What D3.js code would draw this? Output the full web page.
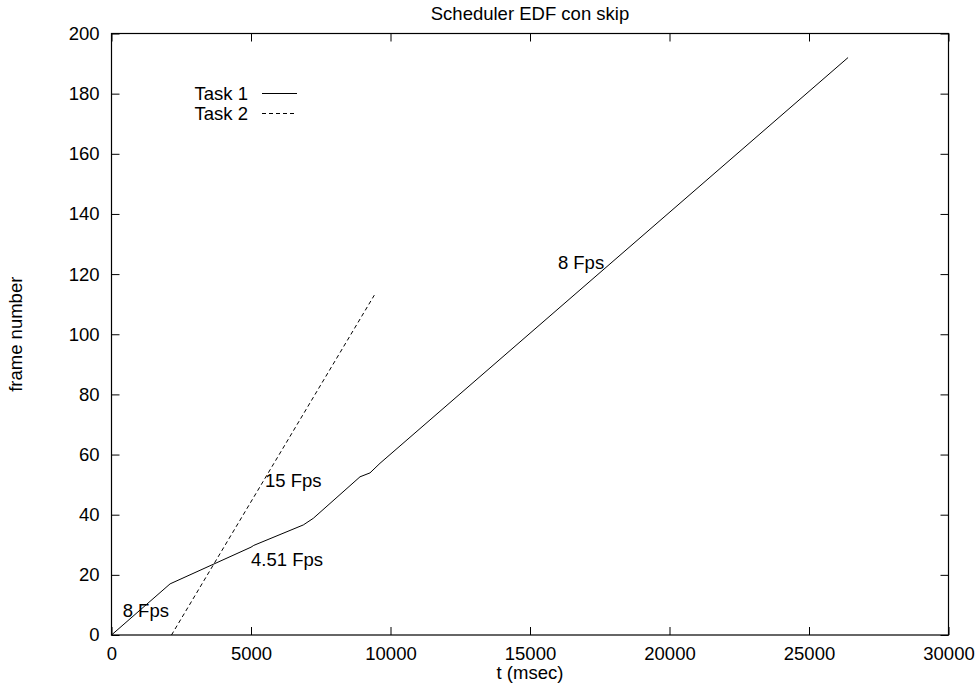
<!DOCTYPE html>
<html>
<head>
<meta charset="utf-8">
<script src="https://cdn.jsdelivr.net/npm/d3@7"></script>
<style>
  html, body { margin: 0; padding: 0; background: #fff; }
  svg text { font-family: "Liberation Sans", Arial, Helvetica, sans-serif; fill: #000; }
</style>
</head>
<body>
<svg id="chart" width="978" height="684"></svg>
<script>
// Frame number vs time (ms) for the two tasks under EDF with skip
const task1Time   = [0, 2100, 5000, 5100, 6875, 7233, 8907, 9265, 9624, 26400];
const task1Frames = [0, 17, 29.2, 29.8, 36.6, 38.8, 52.6, 53.9, 57.1, 192];
const task2Time   = [2150, 9420];
const task2Frames = [0, 113];

const xTicks = [0, 5000, 10000, 15000, 20000, 25000, 30000];
const yTicks = [0, 20, 40, 60, 80, 100, 120, 140, 160, 180, 200];

// Rate annotations placed in data coordinates
const noteText = ["8 Fps", "4.51 Fps", "15 Fps", "8 Fps"];
const noteX    = [400, 5000, 5500, 16000];
const noteY    = [8, 25, 51.5, 124];

const seriesNames = ["Task 1", "Task 2"];

const W = 978, H = 684;
const m = { left: 111.5, right: W - 948.5, top: 33.5, bottom: H - 635 };
const svg = d3.select("#chart");
const FS = "18.5px";

const x = d3.scaleLinear().domain([0, 30000]).range([m.left, W - m.right]);
const y = d3.scaleLinear().domain([0, 200]).range([H - m.bottom, m.top]);

// Inward ticks on all four sides, labels only bottom/left
const tickLen = 8;
const axBottom = svg.append("g").attr("transform", `translate(0,${y(0)})`)
  .call(d3.axisBottom(x).tickValues(xTicks).tickSizeInner(-tickLen).tickSizeOuter(0).tickPadding(12).tickFormat(d3.format("d")));
const axTop = svg.append("g").attr("transform", `translate(0,${y(200)})`)
  .call(d3.axisTop(x).tickValues(xTicks).tickSizeInner(-tickLen).tickSizeOuter(0).tickFormat(""));
const axLeft = svg.append("g").attr("transform", `translate(${x(0)},0)`)
  .call(d3.axisLeft(y).tickValues(yTicks).tickSizeInner(-tickLen).tickSizeOuter(0).tickPadding(12).tickFormat(d3.format("d")));
const axRight = svg.append("g").attr("transform", `translate(${x(30000)},0)`)
  .call(d3.axisRight(y).tickValues(yTicks).tickSizeInner(-tickLen).tickSizeOuter(0).tickFormat(""));

[axBottom, axTop, axLeft, axRight].forEach(g => {
  g.select(".domain").remove();
  g.selectAll("line").attr("stroke", "#000").attr("stroke-width", 1);
  g.selectAll("text").style("font-size", FS).attr("fill", "#000");
});

// Plot border
svg.append("rect")
  .attr("x", x(0)).attr("y", y(200))
  .attr("width", x(30000) - x(0)).attr("height", y(0) - y(200))
  .attr("fill", "none").attr("stroke", "#000").attr("stroke-width", 1.2);

// Series
const line = d3.line().x(d => x(d[0])).y(d => y(d[1]));
const s1 = task1Time.map((t, i) => [t, task1Frames[i]]);
const s2 = task2Time.map((t, i) => [t, task2Frames[i]]);

svg.append("path").datum(s1).attr("d", line)
  .attr("fill", "none").attr("stroke", "#000").attr("stroke-width", 1);
svg.append("path").datum(s2).attr("d", line)
  .attr("fill", "none").attr("stroke", "#000").attr("stroke-width", 1)
  .attr("stroke-dasharray", "4,3");

// Rate annotations
svg.append("g").selectAll("text").data(noteText).join("text")
  .attr("x", (d, i) => x(noteX[i]))
  .attr("y", (d, i) => y(noteY[i]))
  .attr("dy", "0.35em")
  .style("font-size", FS)
  .text(d => d);

// Legend
const legend = svg.append("g");
seriesNames.forEach((name, i) => {
  const ly = 93.5 + i * 20;
  legend.append("text")
    .attr("x", 248).attr("y", ly).attr("dy", "0.35em")
    .attr("text-anchor", "end").style("font-size", FS).text(name);
  legend.append("line")
    .attr("x1", 262).attr("x2", 297).attr("y1", ly).attr("y2", ly)
    .attr("stroke", "#000").attr("stroke-width", 1)
    .attr("stroke-dasharray", i === 1 ? "4,3" : null);
});

// Title and axis labels
svg.append("text")
  .attr("x", x(15000)).attr("y", 20)
  .attr("text-anchor", "middle").style("font-size", FS)
  .text("Scheduler EDF con skip");

svg.append("text")
  .attr("x", x(15000)).attr("y", 679)
  .attr("text-anchor", "middle").style("font-size", FS)
  .text("t (msec)");

svg.append("text")
  .attr("transform", `translate(16,${y(100)}) rotate(-90)`)
  .attr("dy", "0.35em")
  .attr("text-anchor", "middle").style("font-size", FS)
  .text("frame number");
</script>
</body>
</html>
